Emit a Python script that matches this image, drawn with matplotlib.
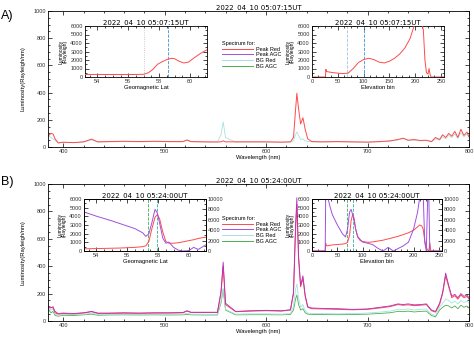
import matplotlib
matplotlib.use('Agg')
import matplotlib.pyplot as plt
from matplotlib.ticker import MultipleLocator
from matplotlib.lines import Line2D

plt.rcParams['font.family'] = ['Liberation Sans', 'DejaVu Sans']

# ---------------- data ----------------
wavelength = [385, 388, 390, 392, 395, 400, 410, 420, 428, 434,
              445, 460, 475, 490, 505, 518, 522, 526, 540, 552,
              555.5, 557.7, 560, 570, 585, 600, 615, 624, 627, 629,
              630.3, 632, 634, 636.3, 638.5, 641, 645, 655, 670, 685,
              700, 712, 722, 730, 735, 740, 746, 752, 758, 763,
              767, 771, 774, 777, 780, 783, 786, 789, 792, 795,
              798, 800]

# Panel A (05:07:15UT)
peak_red_A = [80, 100, 95, 60, 30, 35, 32, 38, 58, 38,
              40, 42, 40, 42, 40, 40, 52, 40, 38, 37,
              38, 45, 38, 38, 38, 38, 36, 38, 70, 270,
              395, 280, 170, 215, 130, 60, 40, 38, 40, 38,
              36, 40, 45, 55, 65, 50, 55, 48, 50, 40,
              70, 55, 90, 70, 100, 80, 115, 70, 130, 85,
              110, 75]
bg_red_A = [85, 70, 60, 50, 30, 35, 32, 36, 52, 36,
            38, 40, 38, 40, 38, 38, 48, 38, 36, 36,
            90, 185, 70, 36, 36, 36, 34, 36, 45, 90,
            110, 85, 55, 60, 45, 40, 38, 36, 38, 36,
            35, 38, 42, 52, 62, 48, 50, 45, 48, 38,
            60, 50, 75, 60, 85, 70, 95, 65, 105, 75,
            95, 70]

# Panel B (05:24:00UT)
peak_red_B = [100, 95, 105, 60, 50, 55, 52, 58, 68, 55,
              55, 57, 56, 58, 58, 60, 72, 62, 62, 62,
              200, 400, 120, 68, 72, 75, 72, 80, 200, 650,
              850, 450, 250, 310, 180, 100, 90, 88, 85, 82,
              85, 95, 105, 120, 115, 118, 112, 115, 120, 75,
              65, 120, 200, 330, 250, 170, 185, 160, 190, 170,
              180, 160]
peak_agc_B = [110, 100, 95, 70, 55, 58, 55, 60, 70, 58,
              58, 60, 58, 60, 60, 62, 75, 64, 64, 64,
              215, 430, 130, 70, 75, 78, 75, 82, 210, 700,
              900, 480, 260, 330, 190, 105, 95, 92, 90, 85,
              88, 100, 110, 125, 120, 125, 118, 120, 125, 80,
              70, 130, 210, 350, 260, 180, 195, 170, 200, 180,
              190, 170]
bg_red_B = [95, 80, 85, 50, 40, 48, 46, 50, 56, 48,
            48, 50, 49, 50, 49, 50, 55, 50, 49, 49,
            140, 240, 85, 50, 52, 52, 50, 54, 110, 230,
            270, 170, 100, 120, 75, 58, 55, 54, 53, 54,
            58, 65, 72, 85, 82, 88, 80, 85, 88, 50,
            40, 100, 130, 160, 150, 130, 145, 125, 150, 135,
            145, 130]
bg_agc_B = [90, 60, 70, 40, 35, 42, 40, 45, 50, 42,
            44, 45, 44, 45, 44, 45, 48, 45, 44, 44,
            130, 230, 80, 45, 46, 46, 45, 48, 80, 160,
            190, 120, 80, 90, 60, 50, 48, 47, 46, 47,
            50, 55, 60, 70, 68, 72, 66, 70, 72, 40,
            30, 80, 100, 115, 110, 95, 110, 90, 115, 100,
            110, 95]

# Inset A1: red luminosity vs geomagnetic latitude
lat_A = [53.2, 54, 55, 56, 56.5, 57, 57.3, 57.6, 57.9, 58.2,
         58.5, 58.8, 59.0, 59.3, 59.6, 59.9, 60.3, 60.7, 61.1]
red_lat_A = [300, 300, 290, 290, 300, 320, 500, 900, 1500, 1800,
             2050, 2200, 2150, 1850, 1650, 1750, 2300, 2800, 3200]
lat_marks_A = [57.0, 58.6]

# Inset A2: red luminosity vs elevation bin
bin_A = [0, 26, 27, 28, 32, 40, 50, 60, 70, 80,
         90, 100, 110, 120, 130, 140, 150, 160, 170, 180,
         190, 198, 205, 212, 216, 219, 222, 225, 227, 229,
         231, 255]
red_bin_A = [0, 0, 900, 650, 600, 520, 450, 400, 450, 1000,
             1700, 2050, 2200, 2050, 1750, 1650, 1850, 2200, 2700, 3400,
             4500, 6000, 6600, 6600, 5500, 2000, 500, 350, 1000, 300,
             0, 0]
bin_marks_A = [68, 101]

# Inset B1
lat_B = [53.2, 54, 55, 55.5, 56, 56.5, 57, 57.2, 57.4, 57.6,
         57.8, 57.95, 58.1, 58.3, 58.5, 58.7, 59, 59.3, 59.6, 60,
         60.3, 60.6, 61.1]
red_lat_B = [250, 280, 320, 340, 380, 420, 500, 600, 1100, 2600,
             3900, 4200, 3700, 2200, 1100, 900, 900, 950, 1050, 1200,
             1300, 1450, 1600]
agc_lat_B = [7500, 6700, 5800, 5300, 4800, 4300, 3500, 2800, 3300, 5500,
             8000, 7300, 5300, 2500, 1500, 1700, 700, 170, 0, 80,
             700, 300, 1200]
lat_marks_B = [57.35, 57.9]

# Inset B2
bin_B = [0, 26, 27, 28, 30, 35, 40, 50, 60, 66,
         70, 74, 77, 80, 83, 86, 90, 95, 100, 110,
         120, 130, 140, 150, 160, 170, 180, 190, 200, 208,
         212, 216, 219, 222, 225, 228, 230, 232, 234, 240,
         255]
red_bin_B = [0, 0, 900, 600, 600, 650, 700, 750, 800, 850,
             1000, 1800, 3500, 4200, 3800, 2500, 1600, 1200, 1100, 1000,
             1050, 1150, 1250, 1400, 1550, 1700, 1900, 2100, 2400, 2800,
             3000, 2900, 2500, 1200, 400, 100, 0, 900, 0, 0,
             0]
agc_bin_B = [0, 0, 10800, 10800, 10800, 8700, 7000, 5000, 3300, 2700,
             4200, 7500, 8000, 7000, 5800, 4200, 2800, 2200, 1700, 1500,
             1200, 500, 0, 700, 0, 500, 1000, 1700, 4200, 7500,
             10300, 10800, 10800, 1700, 0, 10800, 10800, 0, 0, 0,
             0]
bin_marks_B = [68, 80]

legend_labels = ['Peak Red', 'Peak AGC', 'BG Red', 'BG AGC']
title_A = '2022_04_10 05:07:15UT'
title_B = '2022_04_10 05:24:00UT'

# ---------------- style ----------------
C_RED = '#ff4a4a'
C_AGC = '#a050e0'
C_BGR = '#a6e2e2'
C_BGA = '#4caf50'
legend_colors = [C_RED, C_AGC, C_BGR, C_BGA]
TITLE_FONT = ['DejaVu Sans']

W, H = 474, 337
fig = plt.figure(figsize=(W / 100, H / 100), dpi=100)


def box(x0, y0, x1, y1):
    return [x0 / W, 1 - y1 / H, (x1 - x0) / W, (y1 - y0) / H]


def style(ax, fs, right=True):
    ax.tick_params(which='both', direction='in', top=True, right=right,
                   labelsize=fs, width=0.5, pad=1.5, labelcolor='#333333')
    ax.tick_params(which='major', length=3)
    ax.tick_params(which='minor', length=1.5)
    for s in ax.spines.values():
        s.set_linewidth(0.6)


def main_panel(rect, title, series):
    ax = fig.add_axes(rect)
    for y, c, lw, ls in series:
        ax.plot(wavelength, y, color=c, lw=lw, ls=ls)
    ax.set_xlim(385, 800)
    ax.set_ylim(0, 1000)
    ax.set_xticks([400, 500, 600, 700, 800])
    ax.xaxis.set_minor_locator(MultipleLocator(20))
    ax.set_yticks(range(0, 1001, 200))
    ax.yaxis.set_minor_locator(MultipleLocator(50))
    style(ax, 4)
    ax.set_xlabel('Wavelength (nm)', fontsize=4.2, labelpad=1)
    ax.set_ylabel('Luminosity(Rayleigh/nm)', fontsize=4.2, labelpad=6)
    ax.set_title(title, fontsize=5, pad=1, family=TITLE_FONT)
    return ax


def add_legend(ax, ytop):
    handles = [Line2D([], [], color=c, lw=0.7) for c in legend_colors]
    ax.legend(handles, legend_labels, loc='upper left',
              bbox_to_anchor=(222 / W, 1 - ytop / H),
              bbox_transform=fig.transFigure, frameon=False, fontsize=4,
              title='Spectrum for:', title_fontsize=4, alignment='left',
              handlelength=5.5, handletextpad=0.6, labelspacing=0.12,
              borderpad=0, borderaxespad=0)


def inset(rect, title, x, y, marks, mark_styles, xlim, xticks, xlabel,
          y2=None):
    ax = fig.add_axes(rect)
    ax.set_facecolor('white')
    for m, (c, ls) in zip(marks, mark_styles):
        ax.axvline(m, color=c, ls=ls, lw=0.6)
    ax.plot(x, y, color=C_RED, lw=0.7, zorder=3)
    ax.set_xlim(*xlim)
    ax.set_ylim(0, 6000)
    ax.set_xticks(xticks)
    ax.set_yticks(range(0, 6001, 1000))
    ax.xaxis.set_minor_locator(MultipleLocator((xticks[1] - xticks[0]) / 4))
    ax.yaxis.set_minor_locator(MultipleLocator(500))
    style(ax, 4, right=(y2 is None))
    ax.set_xlabel(xlabel, fontsize=4.2, labelpad=1)
    ax.set_ylabel('Luminosity\n(Rayleigh)', fontsize=3.6, labelpad=1.5,
                  linespacing=0.9)
    ax.set_title(title, fontsize=5, pad=1.5, family=TITLE_FONT)
    if y2 is not None:
        ax2 = ax.twinx()
        ax2.plot(x, y2, color=C_AGC, lw=0.7)
        ax2.set_ylim(0, 10000)
        ax2.set_yticks(range(0, 10001, 2000))
        ax2.yaxis.set_minor_locator(MultipleLocator(1000))
        ax2.tick_params(which='both', direction='in', labelsize=4,
                        width=0.5, pad=1.5, labelcolor='#333333')
        ax2.tick_params(which='major', length=3)
        ax2.tick_params(which='minor', length=1.5)
        for s in ax2.spines.values():
            s.set_linewidth(0.6)
    return ax


# ---------------- Panel A ----------------
axA = main_panel(box(48, 11, 469, 147), title_A,
                 [(bg_red_A, C_BGR, 0.6, '-'),
                  (peak_red_A, C_RED, 0.7, '-')])
add_legend(axA, 41)
inset(box(85, 26, 207, 77), title_A, lat_A, red_lat_A, lat_marks_A,
      [('#bbbbbb', ':'), ('#3d8fd0', '--')], (53.2, 61.1),
      [54, 56, 58, 60], 'Geomagnetic Lat')
inset(box(312, 26, 444, 77), title_A, bin_A, red_bin_A, bin_marks_A,
      [('#9cc4e0', '--'), ('#3d8fd0', '--')], (0, 256),
      [0, 50, 100, 150, 200, 250], 'Elevation bin')

# ---------------- Panel B ----------------
axB = main_panel(box(48, 184, 469, 321), title_B,
                 [(bg_agc_B, C_BGA, 0.6, '-'),
                  (bg_red_B, C_BGR, 0.6, '-'),
                  (peak_red_B, C_RED, 0.7, '-'),
                  (peak_agc_B, '#b030c0', 0.6, '-')])
add_legend(axB, 216)
inset(box(84, 199, 206, 251), title_B, lat_B, red_lat_B, lat_marks_B,
      [('#3aa860', '--'), ('#30b0a0', '--')], (53.2, 61.1),
      [54, 56, 58, 60], 'Geomagnetic Lat', y2=agc_lat_B)
inset(box(312, 199, 442, 251), title_B, bin_B, red_bin_B, bin_marks_B,
      [('#3aa860', '--'), ('#30b0a0', '--')], (0, 256),
      [0, 50, 100, 150, 200, 250], 'Elevation bin', y2=agc_bin_B)

fig.text(1 / W, 1 - 16 / H, 'A)', fontsize=9, va='center', ha='left')
fig.text(1 / W, 1 - 182 / H, 'B)', fontsize=9, va='center', ha='left')

fig.savefig('out.png', dpi=100)
